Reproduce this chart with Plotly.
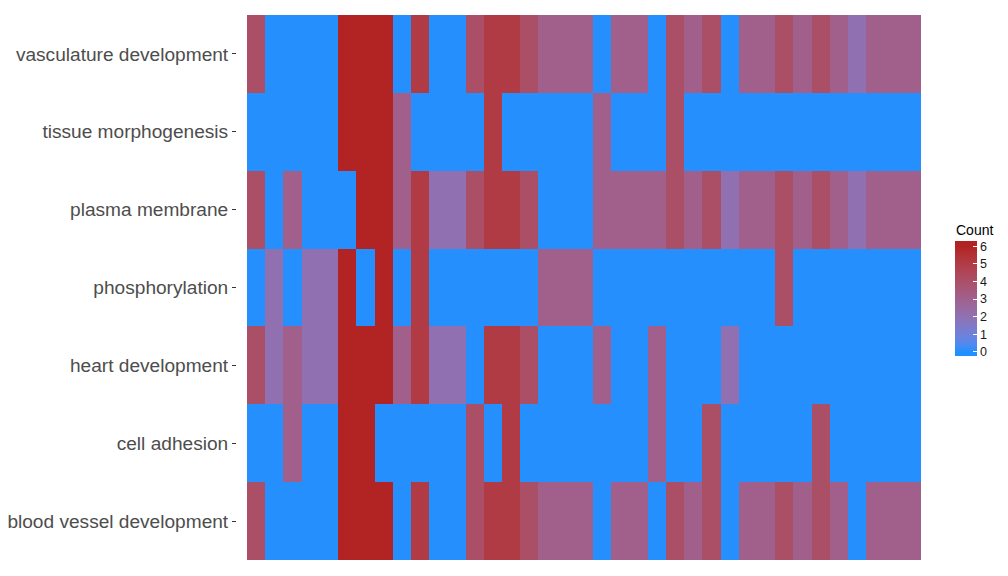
import numpy as np
import plotly.graph_objects as go

# ---- data (rows listed top to bottom) ----
terms = [
    "vasculature development",
    "tissue morphogenesis",
    "plasma membrane",
    "phosphorylation",
    "heart development",
    "cell adhesion",
    "blood vessel development",
]
columns = list(range(1, 38))

vasculature_development = [4, 0, 0, 0, 0, 6, 6, 6, 0, 5, 0, 0, 4, 5, 5, 4, 3, 3, 3, 0, 3, 3, 0, 4, 3, 4, 0, 3, 3, 4, 3, 4, 3, 2, 3, 3, 3]
tissue_morphogenesis    = [0, 0, 0, 0, 0, 6, 6, 6, 3, 0, 0, 0, 0, 5, 0, 0, 0, 0, 0, 3, 0, 0, 0, 4, 0, 0, 0, 0, 0, 0, 0, 0, 0, 0, 0, 0, 0]
plasma_membrane         = [4, 0, 3, 0, 0, 0, 6, 6, 3, 5, 2, 2, 4, 5, 5, 4, 0, 0, 0, 3, 3, 3, 3, 4, 3, 4, 2, 3, 3, 4, 3, 4, 3, 2, 3, 3, 3]
phosphorylation         = [0, 2, 0, 2, 2, 6, 0, 6, 0, 5, 0, 0, 0, 0, 0, 0, 3, 3, 3, 0, 0, 0, 0, 0, 0, 0, 0, 0, 0, 4, 0, 0, 0, 0, 0, 0, 0]
heart_development       = [4, 2, 3, 2, 2, 6, 6, 6, 3, 5, 2, 2, 0, 5, 5, 4, 0, 0, 0, 3, 0, 0, 3, 0, 0, 0, 2, 0, 0, 0, 0, 0, 0, 0, 0, 0, 0]
cell_adhesion           = [0, 0, 3, 0, 0, 6, 6, 0, 0, 0, 0, 0, 4, 0, 5, 0, 0, 0, 0, 0, 0, 0, 3, 0, 0, 4, 0, 0, 0, 0, 0, 4, 0, 0, 0, 0, 0]
blood_vessel_development = [4, 0, 0, 0, 0, 6, 6, 6, 0, 5, 0, 0, 4, 5, 5, 4, 3, 3, 3, 0, 3, 3, 0, 4, 3, 4, 0, 3, 3, 4, 3, 4, 3, 0, 3, 3, 3]

z = [
    vasculature_development,
    tissue_morphogenesis,
    plasma_membrane,
    phosphorylation,
    heart_development,
    cell_adhesion,
    blood_vessel_development,
]

count_ticks = [0, 1, 2, 3, 4, 5, 6]
count_min, count_max = 0, 6

# ---- Lab-interpolated gradient (dodgerblue -> firebrick), like ggplot ----
WHITE = np.array([0.95047, 1.0, 1.08883])
M = np.array([[0.4124, 0.3576, 0.1805],
              [0.2126, 0.7152, 0.0722],
              [0.0193, 0.1192, 0.9505]])
Minv = np.linalg.inv(M)


def hex_to_lab(h):
    h = h.lstrip("#")
    rgb = np.array([int(h[i:i + 2], 16) / 255 for i in (0, 2, 4)])
    lin = np.where(rgb <= 0.04045, rgb / 12.92, ((rgb + 0.055) / 1.055) ** 2.4)
    xyz = M @ lin / WHITE
    f = np.where(xyz > 216 / 24389, np.cbrt(xyz), (24389 / 27 * xyz + 16) / 116)
    return np.array([116 * f[1] - 16, 500 * (f[0] - f[1]), 200 * (f[1] - f[2])])


def lab_to_rgb(lab):
    L, a, b = lab
    fy = (L + 16) / 116
    fx = fy + a / 500
    fz = fy - b / 200
    f = np.array([fx, fy, fz])
    xyz = np.where(f ** 3 > 216 / 24389, f ** 3, (116 * f - 16) / (24389 / 27)) * WHITE
    lin = np.clip(Minv @ xyz, 0, 1)
    rgb = np.where(lin <= 0.0031308, 12.92 * lin, 1.055 * lin ** (1 / 2.4) - 0.055)
    r, g, bb = (np.clip(rgb, 0, 1) * 255).round().astype(int)
    return f"rgb({r},{g},{bb})"


lo, hi = hex_to_lab("#1E90FF"), hex_to_lab("#B22222")
# colour bar extends slightly past the limits (as in ggplot's guide)
ext = 0.27
zlo, zhi = count_min - ext, count_max + ext
colorscale = []
for p in np.linspace(0, 1, 41):
    v = zlo + p * (zhi - zlo)
    t = min(max((v - count_min) / (count_max - count_min), 0), 1)
    colorscale.append([p, lab_to_rgb(lo + (hi - lo) * t)])

# plot area geometry (pixels)
L_M, R_M, T_M, B_M = 237, 87, 15, 16
PW, PH = 1008 - L_M - R_M, 576 - T_M - B_M


def px_x(x):
    return (x - L_M) / PW


def px_y(y):
    return (576 - B_M - y) / PH


fig = go.Figure(
    go.Heatmap(
        z=z,
        x=columns,
        y=terms,
        zmin=zlo,
        zmax=zhi,
        colorscale=colorscale,
        xgap=0,
        ygap=0,
        colorbar=dict(
            tickvals=count_ticks,
            ticktext=[str(v) for v in count_ticks],
            ticks="inside",
            ticklen=4,
            tickcolor="white",
            tickwidth=1,
            tickfont=dict(family="Liberation Sans, Arial", size=12.5, color="#1A1A1A"),
            thickness=22,
            thicknessmode="pixels",
            len=115,
            lenmode="pixels",
            x=px_x(955),
            xanchor="left",
            xpad=0,
            y=px_y(299),
            yanchor="middle",
            ypad=0,
            outlinewidth=0,
        ),
    )
)

fig.add_annotation(
    text="Count",
    x=px_x(954),
    y=px_y(229.5),
    xref="paper",
    yref="paper",
    xanchor="left",
    yanchor="middle",
    showarrow=False,
    font=dict(family="Liberation Sans, Arial", size=14, color="#000000"),
)

fig.update_layout(
    width=1008,
    height=576,
    margin=dict(l=L_M, r=R_M, t=T_M, b=B_M, autoexpand=False),
    paper_bgcolor="white",
    plot_bgcolor="white",
    font=dict(family="Liberation Sans, Arial", color="#4D4D4D"),
    xaxis=dict(
        range=[0.5 - 0.549, 37.5],
        showticklabels=False,
        ticks="",
        showgrid=False,
        zeroline=False,
        showline=False,
    ),
    yaxis=dict(
        type="category",
        autorange="reversed",
        ticks="outside",
        ticklen=4,
        tickcolor="#333333",
        tickwidth=1,
        tickfont=dict(family="Liberation Sans, Arial", size=19.1, color="#4D4D4D"),
        showgrid=False,
        zeroline=False,
        showline=False,
        ticklabelstandoff=0,
    ),
)

fig.write_html(
    "out.html",
    config={"displayModeBar": False},
    post_script="document.body.style.margin='0';",
)
